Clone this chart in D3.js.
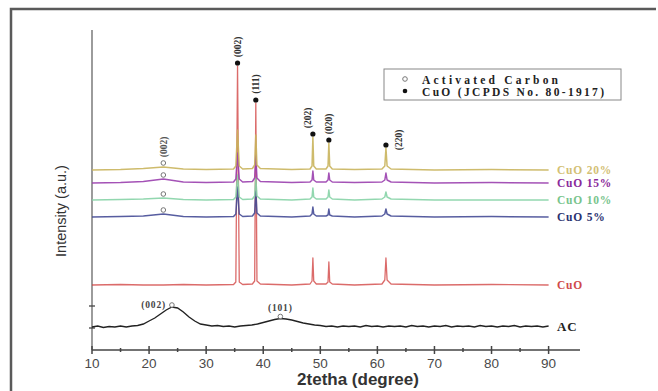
<!DOCTYPE html>
<html>
<head>
<meta charset="utf-8">
<script src="https://cdn.jsdelivr.net/npm/d3@7"></script>
<style>
  body { margin: 0; background: #fff; }
  svg { display: block; }
</style>
</head>
<body>
<svg id="chart" width="658" height="391"></svg>
<script>
// sample positions (2theta) shared by the CuO patterns
const twoTheta = [10, 15, 19, 22.5, 26, 30, 34.8, 35.2, 35.5, 35.8, 36.4, 38.1, 38.5, 38.7, 38.9, 39.5, 45,
  48.2, 48.55, 48.7, 48.85, 49.3, 51.0, 51.35, 51.5, 51.65, 52.1, 56, 60.8, 61.3, 61.5, 61.7, 62.4, 70, 80, 90];

const cuo   = [0, 0.5, 0, 0, 0.5, 0, 0.5, 3, 219, 3, 0.5, 1, 4, 182, 4, 1, 0, 1, 4, 27, 4, 1, 1, 3, 23, 3, 1, 0, 1, 5, 27, 5, 1, 0, 0.5, 0];
const cuo5  = [0, 0.5, 1, 3, 0.5, 0, 0.5, 3, 30, 3, 0.5, 1, 4, 26, 4, 1, 0, 1, 3, 10, 3, 1, 1, 2, 8, 2, 1, 0, 1, 3, 8, 3, 1, 0, 0.5, 0];
const cuo10 = [0, 0.5, 1, 2, 0.5, 0, 0.5, 3, 25, 3, 0.5, 1, 4, 22, 4, 1, 0, 1, 3, 12, 3, 1, 1, 3, 10, 3, 1, 0, 1, 3, 8, 3, 1, 0, 0, 0];
const cuo15 = [0, 0.5, 1.5, 4, 1, 0.5, 1, 4, 30, 4, 1, 1.5, 5, 28, 5, 1.5, 0.5, 1, 3, 12, 3, 1, 1, 3, 10, 3, 1, 0.5, 1, 3, 10, 3, 1, 0, 0.5, 0];
const cuo20 = [0, 0.5, 1.5, 3, 1, 0.5, 1, 4, 40, 4, 1, 1.5, 5, 35, 5, 1.5, 0.5, 1, 4, 33, 4, 1, 1, 4, 27, 4, 1, 0.5, 1, 4, 22, 4, 1, 0, 0.5, 0];

// activated carbon, 1 degree steps from 10 to 90
const acTheta = d3.range(10, 91, 1);
const ac = [23, 24, 22.5, 23.5, 23, 24, 23, 24, 24.5, 26, 29, 32, 36, 40, 43, 42, 38, 33, 29, 26,
  25, 24, 24.5, 23.5, 24, 23, 24, 24.5, 25, 26, 27.5, 29, 30.5, 31.5, 31, 30, 28.5, 27, 26, 25,
  24.5, 23.5, 24, 23, 24, 23.5, 24, 23, 24.5, 23.5, 24, 23, 24, 23.5, 24, 23, 24.5, 23.5, 24, 23,
  24, 23.5, 24.5, 23, 24, 23.5, 24, 23, 24.5, 23.5, 24, 23, 24, 23.5, 24.5, 23, 24, 23.5, 24, 23, 24];

const seriesNames = ["CuO", "CuO 5%", "CuO 10%", "CuO 15%", "CuO 20%"];
const seriesValues = [cuo, cuo5, cuo10, cuo15, cuo20];
const seriesOffsets = [65, 133, 150, 167, 180];
const acOffset = 0;

const cuoPeaks = [35.5, 38.7, 48.7, 51.5, 61.5];
const cuoPeakLabels = ["(002)", "(111)", "(202)", "(020)", "(220)"];
const carbonPeak = 22.5;
const acPeaks = [24, 43];
const acPeakLabels = ["(002)", "(101)"];

const xTicks = [10, 20, 30, 40, 50, 60, 70, 80, 90];
const xMinor = [15, 25, 35, 45, 55, 65, 75, 85];
const yTicks = [22, 44];

const lineColors  = ["#cf3a38", "#454b96", "#86d3a6", "#9a3fae", "#c9b45c"];
const labelColors = ["#d04a4a", "#2a3270", "#78c48c", "#8a2a9a", "#d3c074"];

const svg = d3.select("#chart");
const serif = "'Liberation Serif', 'DejaVu Serif', serif";
const sans = "'Liberation Sans', Arial, sans-serif";

// photo frame
svg.append("rect").attr("width", 658).attr("height", 391).attr("fill", "#fff");
svg.append("path").attr("d", "M11,391 V9 H656").attr("fill", "none")
  .attr("stroke", "#5a5a5a").attr("stroke-width", 2.5);

const x = d3.scaleLinear().domain([10, 95.5]).range([92, 580]);
const y = d3.scaleLinear().domain([0, 320]).range([350, 30]);

// axes
const axisCol = "#444";
svg.append("line").attr("x1", x(10)).attr("x2", x(95.5)).attr("y1", y(0)).attr("y2", y(0))
  .attr("stroke", axisCol).attr("stroke-width", 1.3);
svg.append("line").attr("x1", x(10)).attr("x2", x(10)).attr("y1", y(0)).attr("y2", y(320))
  .attr("stroke", "#666").attr("stroke-width", 1.3);

svg.append("g").selectAll("line").data(xTicks).join("line")
  .attr("x1", d => x(d)).attr("x2", d => x(d))
  .attr("y1", y(0) - 4).attr("y2", y(0) + 4)
  .attr("stroke", axisCol).attr("stroke-width", 1.5);
svg.append("g").selectAll("line").data(xMinor).join("line")
  .attr("x1", d => x(d)).attr("x2", d => x(d))
  .attr("y1", y(0) - 2).attr("y2", y(0) + 2)
  .attr("stroke", axisCol).attr("stroke-width", 1.5);
svg.append("g").selectAll("line").data(yTicks).join("line")
  .attr("x1", x(10) - 3).attr("x2", x(10) + 3)
  .attr("y1", d => y(d)).attr("y2", d => y(d))
  .attr("stroke", axisCol).attr("stroke-width", 1.3);

svg.append("g").selectAll("text").data(xTicks).join("text")
  .attr("x", d => x(d)).attr("y", 368)
  .attr("text-anchor", "middle")
  .attr("font-family", sans).attr("font-size", 13.5)
  .attr("fill", "#4a4a4a")
  .text(d => d);

svg.append("text").attr("x", 358).attr("y", 385)
  .attr("text-anchor", "middle")
  .attr("font-family", sans).attr("font-size", 17).attr("font-weight", "bold")
  .attr("fill", "#333")
  .text("2tetha (degree)");

svg.append("text")
  .attr("transform", "translate(66,211) rotate(-90)")
  .attr("text-anchor", "middle")
  .attr("font-family", sans).attr("font-size", 14.5)
  .attr("fill", "#333")
  .text("Intensity (a.u.)");

// patterns
const line = d3.line().x(d => x(d[0])).y(d => y(d[1]));

svg.append("path")
  .datum(acTheta.map((t, i) => [t, ac[i] + acOffset]))
  .attr("fill", "none").attr("stroke", "#222").attr("stroke-width", 1.4)
  .attr("d", line);

seriesValues.forEach((vals, k) => {
  svg.append("path")
    .datum(twoTheta.map((t, i) => [t, vals[i] + seriesOffsets[k]]))
    .attr("fill", "none").attr("stroke", lineColors[k])
    .attr("stroke-width", k === 0 ? 1.3 : 1.5).attr("stroke-linejoin", "round")
    .attr("stroke-opacity", k === 0 ? 0.75 : 0.9)
    .attr("d", line);
});

// series labels at right
const labelX = 557;
seriesNames.forEach((name, k) => {
  svg.append("text")
    .attr("x", labelX).attr("y", y(seriesOffsets[k]) + 4)
    .attr("font-family", serif).attr("font-size", 11.5).attr("font-weight", "bold")
    .attr("letter-spacing", 0.8)
    .attr("fill", labelColors[k])
    .text(name);
});
svg.append("text")
  .attr("x", labelX).attr("y", y(ac[ac.length - 1] + acOffset) + 5)
  .attr("font-family", serif).attr("font-size", 13).attr("font-weight", "bold")
  .attr("letter-spacing", 0.8)
  .attr("fill", "#222")
  .text("AC");

// CuO peak markers: dot just above the tallest peak, label above the dot
const labelNudge = [[0, 0], [0, 0], [-5, 0], [0, 0], [13, 11]];
cuoPeaks.forEach((p, j) => {
  const idx = twoTheta.indexOf(p);
  const top = d3.max(seriesValues, (vals, k) => vals[idx] + seriesOffsets[k]);
  const dy = y(top) - 3;
  svg.append("circle").attr("cx", x(p)).attr("cy", dy).attr("r", 2.6).attr("fill", "#111");
  svg.append("text")
    .attr("transform", `translate(${x(p) + labelNudge[j][0] + 3},${dy - 16 + labelNudge[j][1]}) rotate(-90)`)
    .attr("text-anchor", "middle")
    .attr("font-family", serif).attr("font-size", 9.5).attr("font-weight", "bold")
    .attr("fill", "#333")
    .text(cuoPeakLabels[j]);
});

// activated carbon markers on composites
const cIdx = twoTheta.indexOf(carbonPeak);
seriesValues.slice(1).forEach((vals, k) => {
  svg.append("circle")
    .attr("cx", x(carbonPeak)).attr("cy", y(vals[cIdx] + seriesOffsets[k + 1]) - 4)
    .attr("r", 2.3).attr("fill", "#fff").attr("stroke", "#777").attr("stroke-width", 1);
});
const topComposite = seriesValues[4][cIdx] + seriesOffsets[4];
svg.append("text")
  .attr("transform", `translate(${x(carbonPeak) + 4},${y(topComposite) - 20}) rotate(-90)`)
  .attr("text-anchor", "middle")
  .attr("font-family", serif).attr("font-size", 9.5).attr("font-weight", "bold")
  .attr("fill", "#555")
  .text("(002)");

// activated carbon markers on AC
acPeaks.forEach((p, j) => {
  const v = ac[acTheta.indexOf(p)] + acOffset;
  const cy = y(v) - 2;
  svg.append("circle").attr("cx", x(p)).attr("cy", cy).attr("r", 2.3)
    .attr("fill", "#fff").attr("stroke", "#777").attr("stroke-width", 1);
  const t = svg.append("text")
    .attr("font-family", serif).attr("font-size", 9.5).attr("font-weight", "bold")
    .attr("letter-spacing", 0.8).attr("fill", "#444")
    .text(acPeakLabels[j]);
  if (j === 0) t.attr("x", x(p) - 6).attr("y", cy + 3).attr("text-anchor", "end");
  else t.attr("x", x(p)).attr("y", cy - 6).attr("text-anchor", "middle");
});

// legend
const lg = svg.append("g");
lg.append("rect").attr("x", 384).attr("y", 69).attr("width", 237).attr("height", 31)
  .attr("fill", "#fff").attr("stroke", "#888").attr("stroke-width", 1);
lg.append("circle").attr("cx", 405).attr("cy", 79).attr("r", 2.3)
  .attr("fill", "#fff").attr("stroke", "#777").attr("stroke-width", 1);
lg.append("circle").attr("cx", 405).attr("cy", 91).attr("r", 2.3).attr("fill", "#111");
lg.append("text").attr("x", 422).attr("y", 83.5)
  .attr("font-family", serif).attr("font-size", 11.5).attr("font-weight", "bold")
  .attr("textLength", 136).attr("lengthAdjust", "spacing")
  .attr("fill", "#222").text("Activated Carbon");
lg.append("text").attr("x", 422).attr("y", 96)
  .attr("font-family", serif).attr("font-size", 11.5).attr("font-weight", "bold")
  .attr("textLength", 182).attr("lengthAdjust", "spacing")
  .attr("fill", "#222").text("CuO (JCPDS No. 80-1917)");
</script>
</body>
</html>
